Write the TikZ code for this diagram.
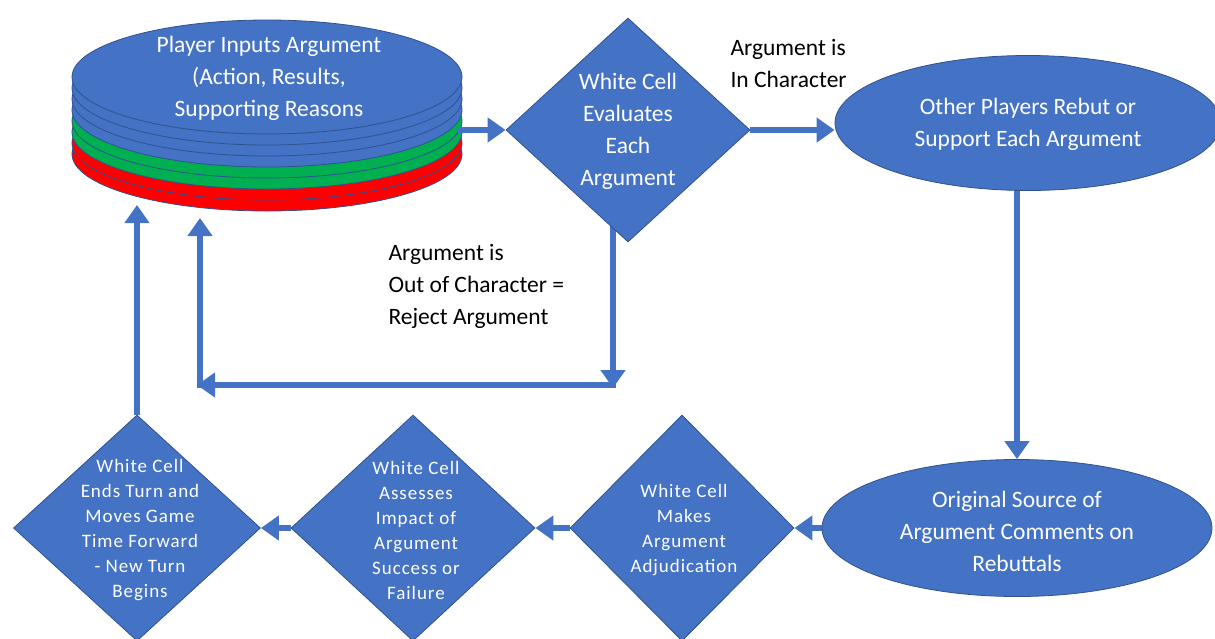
\documentclass[tikz,border=0pt]{standalone}
\usepackage{fontspec}
\setmainfont{Carlito}
\usetikzlibrary{shapes.geometric,arrows.meta,backgrounds,calc}
\definecolor{fillblue}{HTML}{4472C4}
\definecolor{edgeblue}{HTML}{2F528F}
\definecolor{stackgreen}{HTML}{00B050}
\definecolor{stackred}{HTML}{FF0000}
\begin{document}
\begin{tikzpicture}[x=1pt,y=-1pt,
  shapebox/.style={draw=edgeblue, line width=0.8pt, fill=fillblue, inner sep=0pt},
  bigtext/.style={text=white, font=\fontsize{23.5}{32}\selectfont, align=center},
  smalltext/.style={text=white, font=\fontsize{19}{25}\selectfont\addfontfeature{LetterSpace=5}, align=center},
  lbl/.style={text=black, font=\fontsize{23.5}{32}\selectfont, align=left, anchor=west},
  arr/.style={draw=fillblue, line width=6pt, -{Triangle[length=18pt,width=24pt]}}
]
\clip (0,0) rectangle (1215,638);
% stacked ellipses
\foreach \k/\c in {7/stackred,6/stackred,5/stackgreen,4/stackgreen,3/fillblue,2/fillblue,1/fillblue}
  \draw[draw=edgeblue,line width=0.8pt,fill=\c] (267,{77+11*\k}) ellipse [x radius=195pt, y radius=57pt];
\node[shapebox, ellipse, minimum width=390pt, minimum height=114pt] (e1) at (267,77) {};
\node[bigtext] (e1t) at (269,78) {Player Inputs Argument\\(Action, Results,\\Supporting Reasons};
\coordinate (stackR) at (458,130);
\coordinate (stackB1) at (137,205);
\coordinate (stackB2) at (200,218);

% shapes
\node[shapebox, diamond, minimum width=244pt, minimum height=224pt] (d1) at (628,130) {};
\node[bigtext] (d1t) at (628,131) {White Cell\\Evaluates\\Each\\Argument};

\node[shapebox, ellipse, minimum width=386pt, minimum height=135pt] (e2) at (1028,123) {};
\node[bigtext] (e2t) at (1028,124) {Other Players Rebut or\\Support Each Argument};

\node[shapebox, ellipse, minimum width=390pt, minimum height=137pt] (e3) at (1017,528) {};
\node[bigtext] (e3t) at (1017,531) {Original Source of\\Argument Comments on\\Rebuttals};

\node[shapebox, diamond, minimum width=224pt, minimum height=226pt] (d6) at (682,528) {};
\node[smalltext] (d6t) at (684,530) {White Cell\\Makes\\Argument\\Adjudication};

\node[shapebox, diamond, minimum width=244pt, minimum height=226pt] (d5) at (413,528) {};
\node[smalltext] (d5t) at (416,530) {White Cell\\Assesses\\Impact of\\Argument\\Success or\\Failure};

\node[shapebox, diamond, minimum width=247pt, minimum height=226pt] (d4) at (137,528) {};
\node[smalltext] (d4t) at (140,530) {White Cell\\Ends Turn and\\Moves Game\\Time Forward\\- New Turn\\Begins};

% labels
\node[lbl] (lin) at (727,63) {Argument is\\In Character};
\node[lbl] (lout) at (385,286) {Argument is\\Out of Character =\\Reject Argument};

% connectors
\coordinate (oc1) at (613,388);
\coordinate (oc2) at (197,385);
\begin{pgfonlayer}{background}
\draw[arr] (d1.center -| oc1) -- (oc1);
\end{pgfonlayer}
\draw[arr] (stackR |- d1.west) -- (d1.west);
\draw[arr] (d1.east) -- (d1.east -| e2.west);
\draw[arr] (e3.north |- e2.south) -- (e3.north);
\draw[arr] (e3.west) -- (d6.east);
\draw[arr] (d6.west) -- (d5.east);
\draw[arr] (d5.west) -- (d4.east);
\draw[arr] (d4.north) -- (stackB1);
\draw[arr] ([xshift=3pt]oc1 |- oc2) -- (oc2);
\draw[arr] ([xshift=3pt,yshift=-3pt]oc2) -- (stackB2);
\end{tikzpicture}
\end{document}
